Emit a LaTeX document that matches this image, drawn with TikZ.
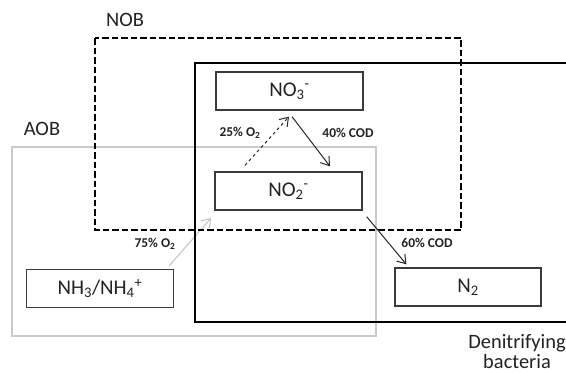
\documentclass[tikz,border=0pt]{standalone}
\usepackage{fontspec}
\setmainfont{Carlito}
\usetikzlibrary{arrows.meta,calc}
\definecolor{boxline}{HTML}{3A3A3A}
\definecolor{aobgray}{HTML}{CACACA}
\definecolor{arrgray}{HTML}{C4C4C4}
\definecolor{txt}{HTML}{222222}
\tikzset{
  species/.style={draw=boxline, line width=1.3bp, fill=white, inner sep=0pt, minimum width=147bp, minimum height=38bp, text=txt, font=\fontsize{21}{25}\selectfont},
  grouplabel/.style={inner sep=0pt, text=txt, font=\fontsize{20.5}{21}\selectfont},
  ratelabel/.style={inner sep=0pt, text=txt, font=\fontsize{13.5}{15}\selectfont\bfseries},
  flow/.style={line width=1bp, draw=black!85, -{Straight Barb[length=8bp,width=11bp,line width=1bp]}},
  aobframe/.style={draw=aobgray, line width=2bp},
  nobframe/.style={draw=black, line width=2.4bp, dash pattern=on 6.5bp off 3bp},
  denframe/.style={draw=black, line width=2.6bp}
}
\begin{document}
\begin{tikzpicture}[x=1bp,y=-1bp]
\clip (0,0) rectangle (566,372);
\fill[white] (0,0) rectangle (566,372);
% frames
\draw[aobframe] (12,147) rectangle (376,336);
\node[species] (nh3) at (100,288.5) {NH\textsubscript{3}/NH\textsubscript{4}\textsuperscript{+}};
\draw[arrgray, line width=1bp, -{Straight Barb[length=8bp,width=11bp,line width=1bp]}]
  ($(nh3.north east)+(-5,-3)$) -- ($(nh3.north east)+(37,-51)$);
\draw[nobframe] (95,38) rectangle (461,230);
\draw[denframe] (195,63) rectangle (580,322);
% species
\node[species] (no3) at (289.5,91) {NO\textsubscript{3}\textsuperscript{-}};
\node[species] (no2) at (288.5,191) {NO\textsubscript{2}\textsuperscript{-}};
\node[species, minimum width=146bp] (n2) at (468,287) {N\textsubscript{2}};
% flows
\draw[flow, dashed] ($(no2.north)+(-43.5,-6)$) -- ($(no3.south)+(-0.5,6)$);
\draw[flow] ($(no3.south)+(2.5,6)$) -- ($(no2.north)+(41.5,-5)$);
\draw[flow] ($(no2.south east)+(4,6)$) -- ($(n2.north west)+(12,-3)$);
% labels
\node[grouplabel] (nob) at (125,20) {NOB};
\node[grouplabel] (aob) at (42,129) {AOB};
\node[grouplabel, align=center] (den) at (517,351.5) {Denitrifying\\[-1bp]bacteria};
\node[ratelabel] (l25) at (240,133) {25\% O\textsubscript{2}};
\node[ratelabel] (l40) at (348,133) {40\% COD};
\node[ratelabel] (l75) at (155,244) {75\% O\textsubscript{2}};
\node[ratelabel] (l60) at (427,243) {60\% COD};
\end{tikzpicture}
\end{document}
